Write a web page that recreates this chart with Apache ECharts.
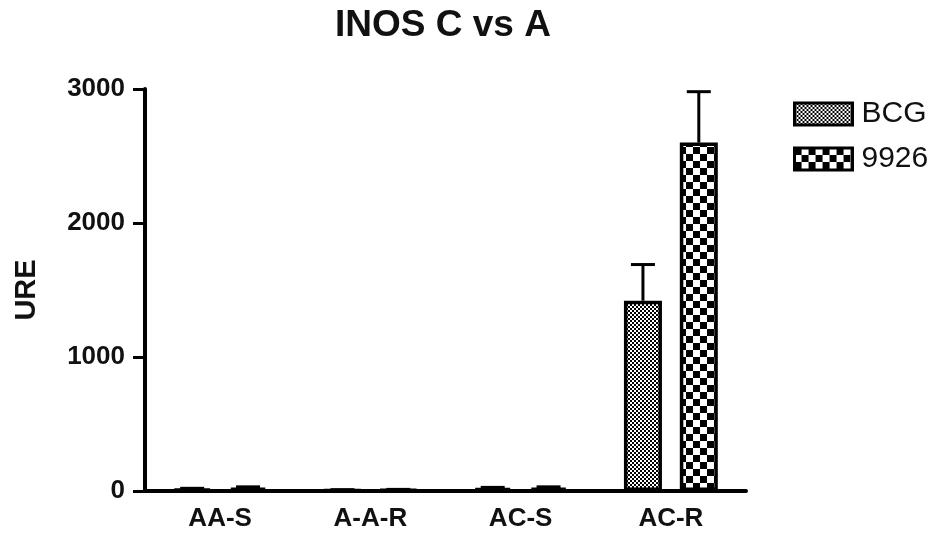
<!DOCTYPE html>
<html>
<head>
<meta charset="utf-8">
<script src="https://cdn.jsdelivr.net/npm/echarts@6/dist/echarts.min.js"></script>
<style>
html,body{margin:0;padding:0;background:#fff;}
#chart{width:933px;height:538px;}
</style>
</head>
<body>
<div id="chart"></div>
<script>
const categories = ['AA-S', 'A-A-R', 'AC-S', 'AC-R'];
const seriesNames = ['BCG', '9926'];
const bcgValues = [16, 8, 22, 1420];
const bcgErrors = [4, 2, 5, 270];
const v9926Values = [26, 10, 26, 2600];
const v9926Errors = [5, 2, 5, 380];
const yTicks = [0, 1000, 2000, 3000];

function makePattern(kind) {
  const c = document.createElement('canvas');
  if (kind === 'fine') {
    c.width = 4; c.height = 4;
    const g = c.getContext('2d');
    g.fillStyle = '#000'; g.fillRect(0, 0, 4, 4);
    g.fillStyle = '#fff';
    g.fillRect(0, 0, 2, 2);
    g.fillRect(2, 2, 2, 2);
  } else {
    c.width = 14; c.height = 14;
    const g = c.getContext('2d');
    g.fillStyle = '#fff'; g.fillRect(0, 0, 14, 14);
    g.fillStyle = '#000';
    g.fillRect(0, 0, 7, 7);
    g.fillRect(7, 7, 7, 7);
  }
  return { image: c, repeat: 'repeat' };
}

const FONT = 'Arial, "Liberation Sans", sans-serif';
const BAR_W = 38;
const BAR_GAP = 0.47;
const OFFSET = (BAR_W + BAR_W * BAR_GAP) / 2;

function errSeries(values, errors, sign) {
  return {
    type: 'custom',
    z: 5,
    silent: true,
    data: values.map((v, i) => [i, v, errors[i]]),
    encode: { x: 0, y: 1 },
    renderItem: function (params, api) {
      const base = api.coord([api.value(0), api.value(1)]);
      const top = api.coord([api.value(0), api.value(1) + api.value(2)]);
      const x = base[0] + sign * OFFSET;
      const style = { stroke: '#000', lineWidth: 3 };
      return {
        type: 'group',
        children: [
          { type: 'line', shape: { x1: x, y1: base[1], x2: x, y2: top[1] }, style: style },
          { type: 'line', shape: { x1: x - 12, y1: top[1], x2: x + 12, y2: top[1] }, style: style }
        ]
      };
    }
  };
}

const chart = echarts.init(document.getElementById('chart'), null, { renderer: 'canvas' });
chart.setOption({
  backgroundColor: '#fff',
  animation: false,
  title: {
    text: 'INOS C vs A',
    left: 438,
    textAlign: 'center',
    top: 2,
    textStyle: { fontFamily: FONT, fontWeight: 'bold', fontSize: 37, color: '#111' }
  },
  legend: {
    orient: 'vertical',
    left: 788,
    top: 94,
    itemWidth: 58,
    itemHeight: 22,
    itemGap: 15,
    icon: 'rect',
    data: seriesNames,
    itemStyle: { borderColor: '#000', borderWidth: 3 },
    textStyle: { fontFamily: FONT, fontSize: 30, color: '#111', padding: [0, 0, 0, 4] }
  },
  grid: { left: 145, right: 187, top: 89, bottom: 47, containLabel: false },
  xAxis: {
    type: 'category',
    data: categories,
    axisLine: { lineStyle: { color: '#000', width: 4 } },
    axisTick: { alignWithLabel: true, length: 10, lineStyle: { color: '#000', width: 3 } },
    axisLabel: { fontFamily: FONT, fontWeight: 'bold', fontSize: 26, color: '#111', margin: 15 }
  },
  yAxis: {
    type: 'value',
    min: yTicks[0],
    max: yTicks[yTicks.length - 1],
    interval: 1000,
    name: 'URE',
    nameLocation: 'middle',
    nameRotate: 90,
    nameGap: 104,
    nameTextStyle: { fontFamily: FONT, fontWeight: 'bold', fontSize: 29, color: '#111' },
    splitLine: { show: false },
    axisLine: { show: true, lineStyle: { color: '#000', width: 4 } },
    axisTick: { show: true, length: 12, lineStyle: { color: '#000', width: 3 } },
    axisLabel: { fontFamily: FONT, fontWeight: 'bold', fontSize: 26, color: '#111', margin: 20,
      formatter: function (v) { return String(v); } }
  },
  series: [
    {
      name: seriesNames[0],
      type: 'bar',
      data: bcgValues,
      barWidth: BAR_W,
      barGap: (BAR_GAP * 100) + '%',
      itemStyle: { color: makePattern('fine'), borderColor: '#000', borderWidth: 3.5 }
    },
    {
      name: seriesNames[1],
      type: 'bar',
      data: v9926Values,
      barWidth: BAR_W,
      barGap: (BAR_GAP * 100) + '%',
      itemStyle: { color: makePattern('coarse'), borderColor: '#000', borderWidth: 3.5 }
    },
    errSeries(bcgValues, bcgErrors, -1),
    errSeries(v9926Values, v9926Errors, 1)
  ]
});
</script>
</body>
</html>
